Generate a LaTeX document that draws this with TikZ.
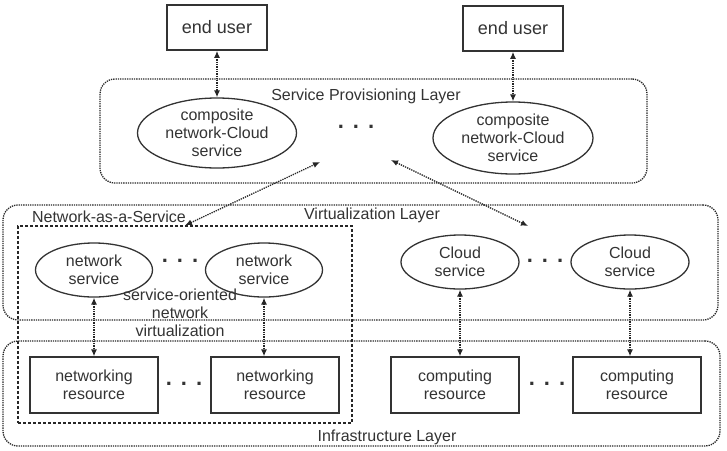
\documentclass[tikz,border=0pt]{standalone}
\usepackage{fontspec}
\setmainfont{Liberation Sans}
\usetikzlibrary{shapes.geometric, positioning, arrows.meta}

\newcommand{\dotrow}{\fontsize{22}{22}\selectfont\bfseries .\hspace{9pt}.\hspace{9pt}.}

\tikzset{
    every node/.style={font=\fontsize{16}{18}\selectfont, text=black!80, align=center},
    layer/.style={draw=black!85, densely dotted, line width=1.3pt, rounded corners=15pt, inner sep=0pt},
    userbox/.style={draw=black!80, line width=1.5pt, minimum width=100pt, minimum height=45pt, inner sep=0pt, font=\fontsize{18}{20}\selectfont},
    resbox/.style={draw=black!80, line width=1.3pt, minimum width=128pt, minimum height=56pt, inner sep=0pt},
    srv/.style={draw=black!80, ellipse, line width=1.3pt, minimum width=117pt, minimum height=54pt, inner sep=0pt},
    link/.style={<->, densely dotted, line width=1.3pt, draw=black!85}
}

\begin{document}
\begin{tikzpicture}[>={Latex[length=7pt,width=6pt]}, x=1pt, y=-1pt]
    \useasboundingbox (0,0) rectangle (727,450);

    % Schichten
    \node[layer, minimum width=547pt, minimum height=104pt] (provlayer) at (373.5,131) {};
    \node[layer, minimum width=715pt, minimum height=115pt] (virtlayer) at (360.5,262.5) {};
    \node[layer, minimum width=717pt, minimum height=105pt] (infralayer) at (361.5,393.5) {};
    \node[draw=black!85, dash pattern=on 3pt off 2pt, line width=1.2pt,
          minimum width=334pt, minimum height=197pt, inner sep=0pt] (naas) at (185,324.5) {};

    \node (provlabel) at (366,96) {Service Provisioning Layer};
    \node (virtlabel) at (372,215) {Virtualization Layer};
    \node (infralabel) at (387,437) {Infrastructure Layer};
    \node (naaslabel) at (109,217) {Network-as-a-Service};

    % Endnutzer und zusammengesetzte Dienste
    \node[userbox] (user1) at (217,27.5) {end user};
    \node[userbox] (user2) at (513,28.5) {end user};
    \node[srv, minimum width=159pt, minimum height=70pt] (comp1) at (217,133) {composite\\network-Cloud\\service};
    \node[srv, minimum width=160pt, minimum height=72pt] (comp2) at (513,138) {composite\\network-Cloud\\service};
    \node (compdots) at (356,127) {\dotrow};

    % Netz- und Cloud-Dienste
    \node[srv] (ns1) at (94,270) {network\\service};
    \node[srv] (ns2) at (264,270) {network\\service};
    \node (nsdots) at (180,261) {\dotrow};
    \node (sonv) at (180,313) {service-oriented\\network\\virtualization};
    \node[srv, minimum width=118pt] (cs1) at (460,262) {Cloud\\service};
    \node[srv, minimum width=118pt] (cs2) at (630,262) {Cloud\\service};
    \node (csdots) at (545,261) {\dotrow};

    % Ressourcen
    \node[resbox] (nr1) at (94,385) {networking\\resource};
    \node[resbox] (nr2) at (275,385) {networking\\resource};
    \node (nrdots) at (184,384) {\dotrow};
    \node[resbox] (cr1) at (455,385) {computing\\resource};
    \node[resbox] (cr2) at (637,385) {computing\\resource};
    \node (crdots) at (547,384) {\dotrow};

    % Verbindungen
    \coordinate (provA) at (320,162);
    \coordinate (provB) at (391,160);
    \coordinate (virtA) at (528,226);
    \draw[link] (user1) -- (comp1);
    \draw[link] (user2) -- (comp2);
    \draw[link] (naas.north) -- (provA);
    \draw[link] (provB) -- (virtA);
    \draw[link] (ns1) -- (nr1);
    \draw[link] (ns2.south) -- (ns2.south |- nr2.north);
    \draw[link] (cs1.south) -- (cs1.south |- cr1.north);
    \draw[link] (cs2.south) -- (cs2.south |- cr2.north);
\end{tikzpicture}
\end{document}
